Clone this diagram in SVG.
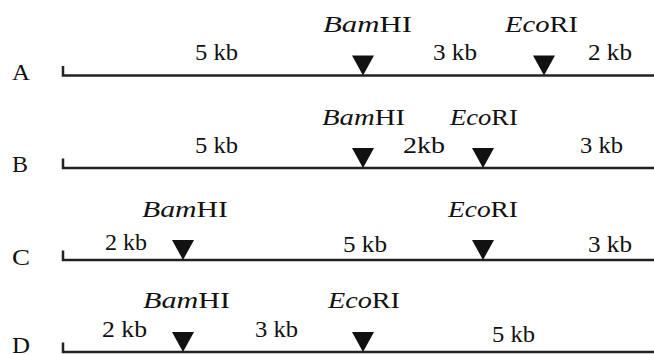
<svg xmlns="http://www.w3.org/2000/svg" width="654" height="354" viewBox="0 0 654 354">
  <style>
    .lbl { font-family: "Liberation Serif", "Times New Roman", "DejaVu Serif", serif; font-size: 23px; fill: #111; }
    .it { font-style: italic; }
    .dna { fill: none; stroke: #222; stroke-width: 2.5; }
    .site { fill: #111; }
  </style>
  <defs>
    <!-- restriction site marker: apex sits on the DNA line -->
    <polygon id="cut" class="site" points="-11,-20 11,-20 0,0"/>
  </defs>

  <g id="map-a">
    <text class="lbl" x="12" y="80" textLength="18" lengthAdjust="spacingAndGlyphs">A</text>
    <path class="dna" d="M63,66 V75.5 H654"/>
    <use href="#cut" x="363" y="75.5"/>
    <use href="#cut" x="544" y="75.5"/>
    <text class="lbl" x="195" y="60" textLength="43" lengthAdjust="spacingAndGlyphs">5 kb</text>
    <text class="lbl" x="323" y="32" textLength="89" lengthAdjust="spacingAndGlyphs"><tspan class="it">Bam</tspan>HI</text>
    <text class="lbl" x="433" y="60" textLength="44" lengthAdjust="spacingAndGlyphs">3 kb</text>
    <text class="lbl" x="505" y="32" textLength="73" lengthAdjust="spacingAndGlyphs"><tspan class="it">Eco</tspan>RI</text>
    <text class="lbl" x="588" y="60" textLength="44" lengthAdjust="spacingAndGlyphs">2 kb</text>
  </g>

  <g id="map-b">
    <text class="lbl" x="12" y="172" textLength="16" lengthAdjust="spacingAndGlyphs">B</text>
    <path class="dna" d="M63,158.5 V168 H654"/>
    <use href="#cut" x="363" y="168"/>
    <use href="#cut" x="483" y="168"/>
    <text class="lbl" x="195" y="153" textLength="43" lengthAdjust="spacingAndGlyphs">5 kb</text>
    <text class="lbl" x="322" y="125" textLength="83" lengthAdjust="spacingAndGlyphs"><tspan class="it">Bam</tspan>HI</text>
    <text class="lbl" x="403" y="153" textLength="42" lengthAdjust="spacingAndGlyphs">2kb</text>
    <text class="lbl" x="450" y="125" textLength="68" lengthAdjust="spacingAndGlyphs"><tspan class="it">Eco</tspan>RI</text>
    <text class="lbl" x="580" y="153" textLength="43" lengthAdjust="spacingAndGlyphs">3 kb</text>
  </g>

  <g id="map-c">
    <text class="lbl" x="12" y="265" textLength="18" lengthAdjust="spacingAndGlyphs">C</text>
    <path class="dna" d="M63,250.5 V260 H654"/>
    <use href="#cut" x="183" y="260"/>
    <use href="#cut" x="483" y="260"/>
    <text class="lbl" x="105" y="250" textLength="42" lengthAdjust="spacingAndGlyphs">2 kb</text>
    <text class="lbl" x="142" y="217" textLength="86" lengthAdjust="spacingAndGlyphs"><tspan class="it">Bam</tspan>HI</text>
    <text class="lbl" x="343" y="252" textLength="44" lengthAdjust="spacingAndGlyphs">5 kb</text>
    <text class="lbl" x="448" y="217" textLength="70" lengthAdjust="spacingAndGlyphs"><tspan class="it">Eco</tspan>RI</text>
    <text class="lbl" x="588" y="252" textLength="44" lengthAdjust="spacingAndGlyphs">3 kb</text>
  </g>

  <g id="map-d">
    <text class="lbl" x="12" y="353" textLength="18" lengthAdjust="spacingAndGlyphs">D</text>
    <path class="dna" d="M63,342.5 V352 H654"/>
    <use href="#cut" x="183" y="352"/>
    <use href="#cut" x="363" y="352"/>
    <text class="lbl" x="102" y="337" textLength="45" lengthAdjust="spacingAndGlyphs">2 kb</text>
    <text class="lbl" x="143" y="308" textLength="87" lengthAdjust="spacingAndGlyphs"><tspan class="it">Bam</tspan>HI</text>
    <text class="lbl" x="255" y="337" textLength="43" lengthAdjust="spacingAndGlyphs">3 kb</text>
    <text class="lbl" x="328" y="308" textLength="72" lengthAdjust="spacingAndGlyphs"><tspan class="it">Eco</tspan>RI</text>
    <text class="lbl" x="492" y="342" textLength="43" lengthAdjust="spacingAndGlyphs">5 kb</text>
  </g>
</svg>
